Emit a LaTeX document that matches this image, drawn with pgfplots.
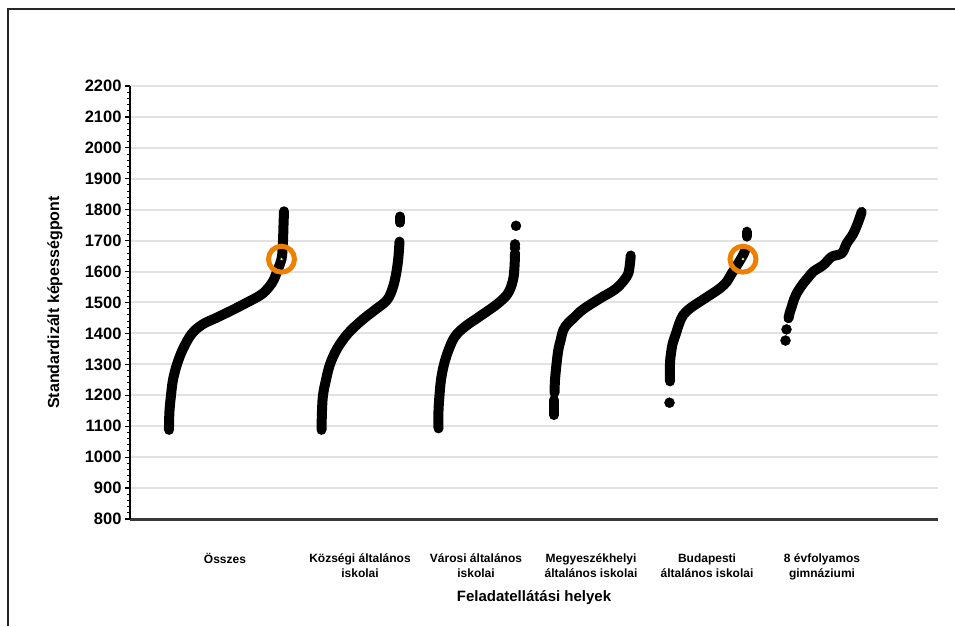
\documentclass[border=0pt]{standalone}
\usepackage{pgfplots}
\pgfplotsset{compat=1.18}
\usepackage{fontspec}
\setmainfont{Liberation Sans}

\definecolor{gridgray}{RGB}{226,226,226}
\definecolor{ringorange}{RGB}{238,128,0}
\definecolor{axisgray}{RGB}{55,55,55}

\begin{document}
\begin{tikzpicture}[x=1pt,y=1pt]
\path[use as bounding box] (0,0) rectangle (955,626);
% frame of the screenshot
\draw[line width=2pt, black!85] (7.5,0) -- (7.5,616.5) -- (955,616.5);

\begin{axis}[
  at={(130pt,107pt)}, anchor=south west,
  scale only axis, width=808pt, height=433pt,
  xmin=130, xmax=938, ymin=800, ymax=2200,
  axis x line=bottom, axis y line=left,
  x axis line style={-, line width=3pt, axisgray},
  y axis line style={-, line width=1.5pt, black},
  ytick distance=100, minor y tick num=4,
  tick align=outside,
  major tick length=5pt, minor tick length=3pt,
  ytick style={line width=1.2pt, black},
  minor y tick style={line width=1pt},
  ymajorgrids, major grid style={line width=2pt, gridgray},
  xtick={225,360,476,591,707,822},
  xticklabels={{Összes},
    {Községi általános\\iskolai},
    {Városi általános\\iskolai},
    {Megyeszékhelyi\\általános iskolai},
    {Budapesti\\általános iskolai},
    {8 évfolyamos\\gimnáziumi}},
  xtick style={draw=none},
  xticklabel style={align=center, font=\fontsize{12}{15}\selectfont\bfseries, yshift=-26pt},
  yticklabel style={font=\fontsize{16.5}{18}\selectfont\bfseries},
  /pgf/number format/assume math mode=true,
  /pgf/number format/set thousands separator={},
  xlabel={Feladatellátási helyek},
  ylabel={Standardizált képességpont},
  xlabel style={font=\fontsize{15}{17}\selectfont\bfseries,
    at={(axis description cs:0.5,-0.182)}, anchor=center},
  ylabel style={font=\fontsize{16}{18}\selectfont\bfseries,
    at={(axis description cs:-0.093,0.5)}, anchor=center},
  curve/.style={black, line width=10pt, line cap=round, line join=round,
    smooth, tension=0.6},
  dots/.style={only marks, mark=*, mark size=5pt, black},
]

% Összes
\addplot[curve] coordinates {
(169,1088) (169,1100) (169.5,1150) (171,1200) (173,1250) (177,1300)
(183,1350) (192,1400) (203,1430) (216,1450) (232,1475) (247,1500)
(261,1525) (269,1550) (274,1575) (277,1600) (280,1625) (282,1650)
(283,1700) (283.5,1750) (284,1795)};

% Községi általános iskolai
\addplot[curve] coordinates {
(321.5,1088) (322,1150) (323,1200) (326,1250) (330,1300) (337,1350)
(348,1400) (362,1443) (375,1476) (387,1508) (393,1550) (396.5,1600)
(398.5,1650) (399.5,1697)};
\addplot[curve] coordinates {(400,1758) (400,1778)};

% Városi általános iskolai
\addplot[curve] coordinates {
(438.5,1093) (438.5,1150) (439.5,1200) (441,1250) (444,1300) (449,1350)
(455,1390) (465,1422) (482,1460) (498,1497) (508,1530) (513,1573)
(514.5,1616) (515,1660)};
\addplot[dots] coordinates {(515,1676) (515,1688) (516,1748)};

% Megyeszékhelyi általános iskolai
\addplot[curve] coordinates {(554,1136) (554,1185)};
\addplot[curve] coordinates {
(554.5,1208) (555,1250) (556.5,1300) (558.3,1346) (560.7,1379) (563.3,1411)
(568,1433) (573.3,1449) (580,1470) (586.7,1486) (595,1503) (603,1519)
(611.7,1535) (618.3,1551) (624.3,1573) (628.3,1594) (630,1627) (630.7,1652)};

% Budapesti általános iskolai
\addplot[dots] coordinates {(669.5,1176)};
\addplot[curve] coordinates {
(670,1245) (670,1303) (671,1336) (672.7,1368) (676,1400) (679.3,1433)
(683.3,1460) (690,1481) (700,1503) (710,1524) (720,1546) (726.7,1567)
(731.7,1594) (738.3,1627) (744,1659) (745,1670)};
\addplot[curve] coordinates {(746.7,1713) (746.7,1729)};

% 8 évfolyamos gimnáziumi
\addplot[dots] coordinates {(785.5,1377) (786.5,1413)};
\addplot[curve] coordinates {
(788.5,1449) (790,1470) (791.7,1486) (794,1510) (796.7,1530) (803.3,1562)
(808,1580) (813.3,1600) (823.3,1621) (831.7,1648) (841.7,1659)
(846.7,1691) (853.3,1723) (858.3,1761) (861.7,1793)};

% highlighted schools
\addplot[only marks, mark=o, mark size=13pt,
  mark options={line width=5pt, draw=ringorange}]
  coordinates {(281.5,1640) (743,1640)};
\addplot[only marks, mark=*, mark size=1.8pt,
  mark options={draw=none, fill=yellow!70}]
  coordinates {(281.5,1640) (743,1640)};
\end{axis}
\end{tikzpicture}
\end{document}
